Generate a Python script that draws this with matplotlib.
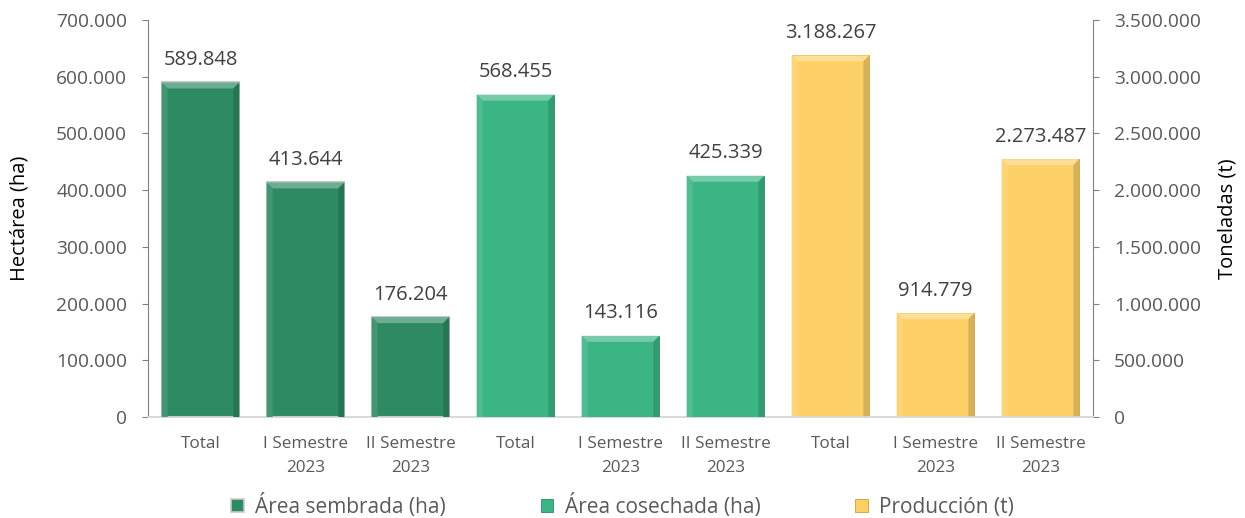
import matplotlib
matplotlib.use("Agg")
import matplotlib.pyplot as plt
from matplotlib.patches import Polygon, Patch
import matplotlib.colors as mcolors
import numpy as np

categories = ["Total", "I Semestre\n2023", "II Semestre\n2023",
              "Total", "I Semestre\n2023", "II Semestre\n2023",
              "Total", "I Semestre\n2023", "II Semestre\n2023"]
sembrada = [589848, 413644, 176204]
cosechada = [568455, 143116, 425339]
produccion = [3188267, 914779, 2273487]
series_names = ["Área sembrada (ha)", "Área cosechada (ha)", "Producción (t)"]
left_ticks = [0, 100000, 200000, 300000, 400000, 500000, 600000, 700000]
right_ticks = [0, 500000, 1000000, 1500000, 2000000, 2500000, 3000000, 3500000]

plt.rcParams['font.family'] = ['Open Sans', 'DejaVu Sans']

c_semb = "#2E8A63"
c_cose = "#3CB585"
c_prod = "#FDD067"
txt = "#404040"
tick_c = "#595959"

def fmt(v):
    return f"{int(round(v)):,}".replace(",", ".")

fig = plt.figure(figsize=(12.45, 5.18), dpi=100)
W, H = 1245, 518
ax = fig.add_axes([148 / W, 1 - 417 / H, (1093 - 148) / W, (417 - 20) / H])
ax2 = ax.twinx()

x = np.arange(len(categories))
bw = 0.74
ax.set_xlim(-0.5, len(categories) - 0.5)
ax.set_ylim(0, 700000)
ax2.set_ylim(0, 3500000)

b1 = ax.bar(x[0:3], sembrada, width=bw, color=c_semb, edgecolor="#C8C8C8", linewidth=1.5, zorder=3)
b2 = ax.bar(x[3:6], cosechada, width=bw, color=c_cose, edgecolor="#2E8A63", linewidth=0.6, zorder=3)
b3 = ax2.bar(x[6:9], produccion, width=bw, color=c_prod, edgecolor="#C9A040", linewidth=0.6, zorder=3)

def shade(c, f):
    r, g, b = mcolors.to_rgb(c)
    if f > 0:
        return (r + (1 - r) * f, g + (1 - g) * f, b + (1 - b) * f)
    f = -f
    return (r * (1 - f), g * (1 - f), b * (1 - f))

def bevel(axis, bars, color, bpx=6):
    p0 = axis.transData.inverted().transform((0, 0))
    p1 = axis.transData.inverted().transform((bpx, bpx))
    dx, dy = p1[0] - p0[0], p1[1] - p0[1]
    for r in bars:
        x0 = r.get_x(); x1 = x0 + r.get_width()
        y0 = r.get_y(); y1 = y0 + r.get_height()
        polys = [
            ([(x0, y1), (x1, y1), (x1 - dx, y1 - dy), (x0 + dx, y1 - dy)], shade(color, 0.30)),
            ([(x0, y0), (x0, y1), (x0 + dx, y1 - dy), (x0 + dx, y0)], shade(color, 0.10)),
            ([(x1, y0), (x1, y1), (x1 - dx, y1 - dy), (x1 - dx, y0)], shade(color, -0.15)),
        ]
        for pts, c in polys:
            axis.add_patch(Polygon(pts, closed=True, facecolor=c, edgecolor="none", zorder=4))

for axis, bars, vals in [(ax, b1, sembrada), (ax, b2, cosechada), (ax2, b3, produccion)]:
    for r, v in zip(bars, vals):
        axis.annotate(fmt(v), (r.get_x() + r.get_width() / 2, r.get_height()),
                      xytext=(0, 9), textcoords="offset points", ha="center", va="bottom",
                      fontsize=14.5, color=txt, zorder=5)

bevel(ax, b1, c_semb)
bevel(ax, b2, c_cose)
bevel(ax2, b3, c_prod)

ax.set_zorder(ax2.get_zorder() + 1)
ax.patch.set_visible(False)

ax.set_yticks(left_ticks)
ax.set_yticklabels([fmt(v) for v in left_ticks])
ax2.set_yticks(right_ticks)
ax2.set_yticklabels([fmt(v) for v in right_ticks])
ax.set_xticks(x)
ax.set_xticklabels(categories, fontsize=12.3, color=tick_c, linespacing=1.6)
ax.tick_params(axis="x", length=0, pad=14)
ax.tick_params(axis="y", labelsize=13.8, labelcolor=tick_c, color="#808080", length=4, pad=11)
ax2.tick_params(axis="y", labelsize=13.8, labelcolor=tick_c, color="#808080", length=4, pad=11)

for a in (ax, ax2):
    a.spines["top"].set_visible(False)
    a.spines["bottom"].set_color("#D9D9D9")
    a.spines["bottom"].set_linewidth(1.2)
ax.spines["right"].set_visible(False)
ax.spines["left"].set_color("#808080")
ax2.spines["left"].set_visible(False)
ax2.spines["right"].set_color("#808080")

ax.set_ylabel("Hectárea (ha)", fontsize=14.5, color="#000000")
ax2.set_ylabel("Toneladas (t)", fontsize=14.5, color="#000000")
ax.yaxis.set_label_coords((29 - 148) / 945, 0.5)
ax2.yaxis.set_label_coords((1217 - 148) / 945, 0.5)

handles = [Patch(facecolor=c_semb, edgecolor="#C8C8C8", linewidth=1.2),
           Patch(facecolor=c_cose, edgecolor="#2E8A63", linewidth=0.6),
           Patch(facecolor=c_prod, edgecolor="#C9A040", linewidth=0.6)]
fig.legend(handles, series_names, loc="center", bbox_to_anchor=(0.5, 1 - 506 / H), ncol=3,
           frameon=False, fontsize=15, handlelength=0.6, handleheight=0.6,
           columnspacing=4.55, handletextpad=0.55, labelcolor=tick_c)

fig.savefig("out.png", dpi=100)
